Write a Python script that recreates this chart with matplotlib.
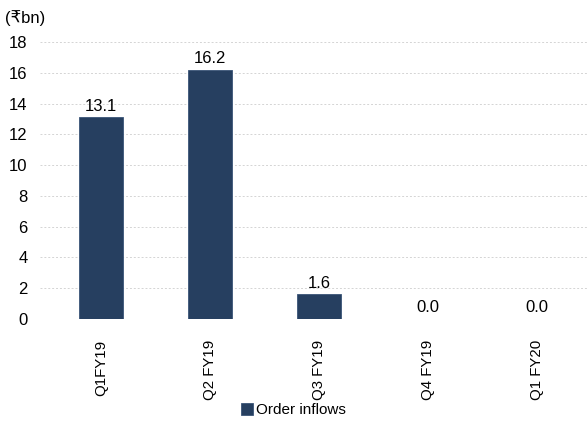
import numpy as np
import matplotlib.pyplot as plt

# data
quarters = ['Q1FY19', 'Q2 FY19', 'Q3 FY19', 'Q4 FY19', 'Q1 FY20']
order_inflows = [13.1, 16.2, 1.6, 0.0, 0.0]
yticks = [0, 2, 4, 6, 8, 10, 12, 14, 16, 18]

plt.rcParams['font.family'] = ['Liberation Sans Narrow', 'Liberation Sans', 'DejaVu Sans']
plt.rcParams['font.size'] = 12

fig = plt.figure(figsize=(5.87, 4.26), dpi=100)
ax = fig.add_axes([40 / 587, (426 - 319) / 426, 547 / 587, (319 - 42) / 426])

x = np.arange(len(quarters))
bars = ax.bar(x, order_inflows, width=0.4, color='#263f60', edgecolor='#3a5478',
              linewidth=0.6, label='Order inflows', zorder=3)

for xi, v in zip(x, order_inflows):
    ax.text(xi, v + 0.25, f'{v:.1f}', ha='center', va='bottom')

ax.set_xlim(-0.56, 4.46)
ax.set_ylim(0, 18)
ax.set_yticks(yticks)
ax.set_xticks(x)
ax.set_xticklabels(quarters, rotation=90, fontsize=10.8)
ax.tick_params(length=0)
ax.tick_params(axis='x', pad=15)
ax.tick_params(axis='y', pad=9)

ax.grid(axis='y', linestyle=(0, (2, 2)), color='#d4d4d4', linewidth=0.7, zorder=0)
for s in ax.spines.values():
    s.set_visible(False)

fig.text(5 / 587, 1 - 18 / 426, '(\u20b9bn)', ha='left', va='center',
         family=['Liberation Sans Narrow', 'Liberation Sans', 'DejaVu Sans'])

fig.legend(handles=[bars], loc='center', bbox_to_anchor=(0.5, 1 - 410 / 426), frameon=False,
           handlelength=0.8, handleheight=0.8, handletextpad=0.2, fontsize=11)

fig.savefig('out.png', dpi=100)
